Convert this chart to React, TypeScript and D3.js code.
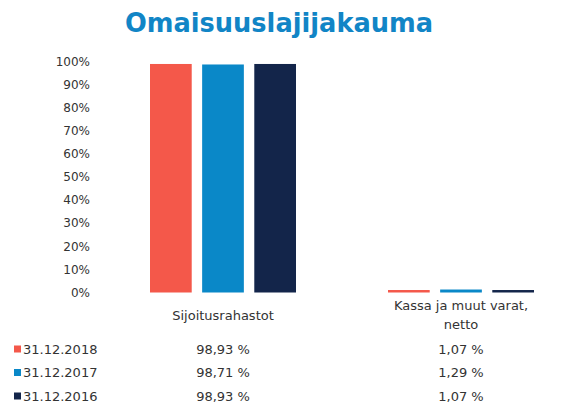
import React from "react";
import * as d3 from "d3";

const title = "Omaisuuslajijakauma";
const categories = ["Sijoitusrahastot", "Kassa ja muut varat, netto"];
const categoryLines = [["Sijoitusrahastot"], ["Kassa ja muut varat,", "netto"]];
const series = ["31.12.2018", "31.12.2017", "31.12.2016"];
const values2018 = [98.93, 1.07];
const values2017 = [98.71, 1.29];
const values2016 = [98.93, 1.07];
const valueLabels2018 = ["98,93 %", "1,07 %"];
const valueLabels2017 = ["98,71 %", "1,29 %"];
const valueLabels2016 = ["98,93 %", "1,07 %"];
const yTicks = [0, 10, 20, 30, 40, 50, 60, 70, 80, 90, 100];
const colors = ["#F4584A", "#0A88C8", "#13254A"];

const seriesValues = [values2018, values2017, values2016];
const seriesLabels = [valueLabels2018, valueLabels2017, valueLabels2016];

const W = 578;
const H = 403;
const FONT = "'DejaVu Sans', sans-serif";
const TEXT = "#333333";

export default function App() {
  const x0 = d3.scaleBand<string>().domain(categories).range([104, 580]).padding(0);
  const x1 = d3
    .scaleBand<string>()
    .domain(series)
    .range([46, 192])
    .paddingInner(0.2)
    .paddingOuter(0);
  const y = d3.scaleLinear().domain([0, 100]).range([292.5, 61.5]);

  const rowY = [349, 372.5, 396];

  return (
    <div style={{ position: "absolute", left: 0, top: 0 }}>
      <svg width={W} height={H} style={{ display: "block", background: "#fff" }}>
        <text
          x={279}
          y={32}
          textAnchor="middle"
          fontFamily={FONT}
          fontWeight="bold"
          fontSize={26}
          fill="#1185C6"
          textLength={308}
          lengthAdjust="spacingAndGlyphs"
        >
          {title}
        </text>

        {yTicks.map((t) => (
          <text
            key={t}
            x={90}
            y={y(t)}
            dy="0.35em"
            textAnchor="end"
            fontFamily={FONT}
            fontSize={12}
            fill={TEXT}
          >
            {t}%
          </text>
        ))}

        {categories.map((c, ci) => (
          <g key={c} transform={`translate(${x0(c)},0)`}>
            {series.map((s, si) => {
              const v = seriesValues[si][ci];
              return (
                <rect
                  key={s}
                  x={x1(s)}
                  y={y(v)}
                  width={x1.bandwidth()}
                  height={y(0) - y(v)}
                  fill={colors[si]}
                />
              );
            })}
          </g>
        ))}

        {categories.map((c, ci) => {
          const cx = (x0(c) as number) + x0.bandwidth() / 2;
          const lines = categoryLines[ci];
          const lh = 18.5;
          const y0 = 315 - ((lines.length - 1) * lh) / 2;
          return (
            <text
              key={c}
              textAnchor="middle"
              fontFamily={FONT}
              fontSize={13}
              fill={TEXT}
            >
              {lines.map((l, li) => (
                <tspan key={li} x={cx} y={y0 + li * lh} dy="0.35em">
                  {l}
                </tspan>
              ))}
            </text>
          );
        })}

        {series.map((s, si) => (
          <g key={s}>
            <rect x={14} y={rowY[si] - 3.5} width={7} height={7} fill={colors[si]} />
            <text
              x={23}
              y={rowY[si]}
              dy="0.35em"
              fontFamily={FONT}
              fontSize={13}
              fill={TEXT}
            >
              {s}
            </text>
            {categories.map((c, ci) => (
              <text
                key={c}
                x={(x0(c) as number) + x0.bandwidth() / 2}
                y={rowY[si]}
                dy="0.35em"
                textAnchor="middle"
                fontFamily={FONT}
                fontSize={13}
                fill={TEXT}
              >
                {seriesLabels[si][ci]}
              </text>
            ))}
          </g>
        ))}
      </svg>
    </div>
  );
}
